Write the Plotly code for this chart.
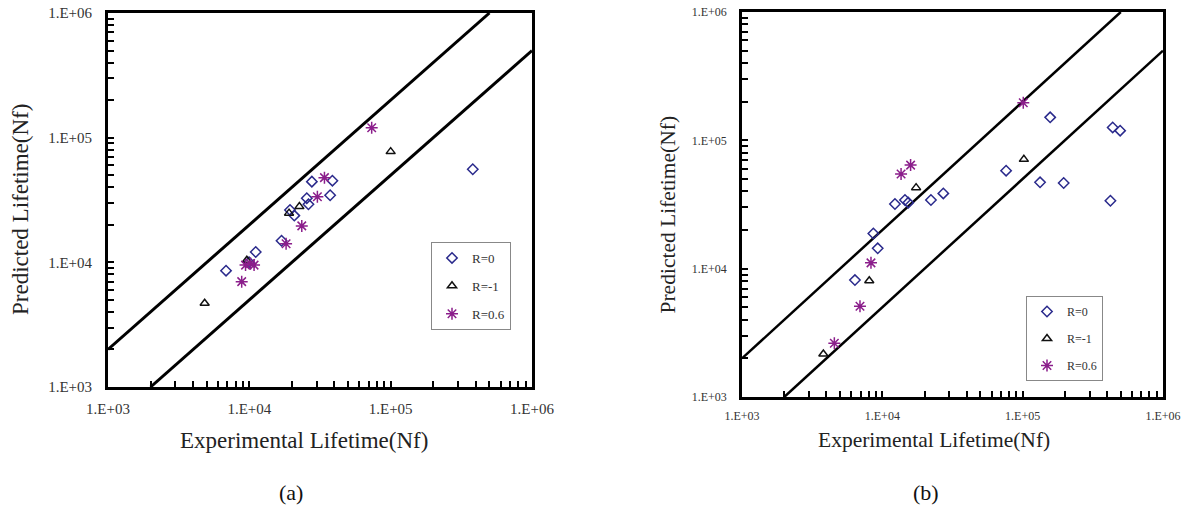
import plotly.graph_objects as go

# ---------------- data ----------------
# panel (a)
a_r0_x = [6840, 9950, 11100, 16900, 19400, 20800, 26200, 25500, 27700, 37300, 38700, 381000]
a_r0_y = [8570, 10000, 12100, 14900, 26300, 23700, 29200, 32700, 44400, 34500, 45200, 55800]
a_rm1_x = [4830, 9600, 19100, 22600, 100000]
a_rm1_y = [4700, 10400, 24800, 28000, 77300]
a_r06_x = [8830, 9400, 10200, 10800, 18200, 23500, 30300, 34000, 73400]
a_r06_y = [7000, 9500, 9800, 9500, 14100, 19600, 33600, 47800, 120000]

# panel (b)
b_r0_x = [6380, 8630, 9270, 12300, 14500, 15300, 22200, 27200, 76200, 133000, 157000, 196000, 422000, 438000, 495000]
b_r0_y = [8150, 18800, 14400, 31900, 34300, 32700, 34300, 38600, 58000, 47100, 151000, 46500, 33800, 126000, 119000]
b_rm1_x = [3800, 8070, 17400, 102000]
b_rm1_y = [2160, 8050, 42800, 71100]
b_r06_x = [4550, 6930, 8300, 13600, 15900, 101000]
b_r06_y = [2620, 5100, 11100, 54600, 64100, 196000]

series_names = ["R=0", "R=-1", "R=0.6"]
axis_min, axis_max = 1e3, 1e6
band_factor = 2
x_title = "Experimental Lifetime(Nf)"
y_title = "Predicted Lifetime(Nf)"
panel_labels = ["(a)", "(b)"]

# ---------------- styling ----------------
W, H = 1194, 506
FONT = "Liberation Serif"
C_R0 = "#2a2a8c"
C_RM1 = "#111111"
C_R06 = "#8b1e8b"

tickvals = []
ticktext = []
for e in range(3, 6):
    for m in range(1, 10):
        tickvals.append(m * 10 ** e)
        ticktext.append(f"1.E+0{e}" if m == 1 else "")
tickvals.append(10 ** 6)
ticktext.append("1.E+06")

fig = go.Figure()

panels = [
    dict(xs=(108, 532), ys=(13, 387), xa="x", ya="y", legend="legend",
         data=[(a_r0_x, a_r0_y), (a_rm1_x, a_rm1_y), (a_r06_x, a_r06_y)],
         tickfont=15, titlefont=23, lw=3, leg=(431, 242), legfont=13,
         ytitle_x=20, xtitle_x=304),
    dict(xs=(742, 1163), ys=(12, 397), xa="x2", ya="y2", legend="legend2",
         data=[(b_r0_x, b_r0_y), (b_rm1_x, b_rm1_y), (b_r06_x, b_r06_y)],
         tickfont=12, titlefont=21.5, lw=2.5, leg=(1026, 296), legfont=12,
         ytitle_x=667, xtitle_x=934),
]

symbols = [("diamond-open", C_R0, 8), ("triangle-up-open", C_RM1, 8), ("asterisk-open", C_R06, 10)]

for p in panels:
    # factor-of-2 band lines
    up_x = [axis_min, axis_max / band_factor]
    lo_x = [axis_min * band_factor, axis_max]
    fig.add_trace(go.Scatter(x=up_x, y=[v * band_factor for v in up_x], mode="lines",
                             line=dict(color="black", width=p["lw"]), showlegend=False,
                             xaxis=p["xa"], yaxis=p["ya"], hoverinfo="skip"))
    fig.add_trace(go.Scatter(x=lo_x, y=[v / band_factor for v in lo_x], mode="lines",
                             line=dict(color="black", width=p["lw"]), showlegend=False,
                             xaxis=p["xa"], yaxis=p["ya"], hoverinfo="skip"))
    for (xs, ys), name, (sym, col, sz) in zip(p["data"], series_names, symbols):
        fig.add_trace(go.Scatter(x=xs, y=ys, mode="markers", name=name,
                                 marker=dict(symbol=sym, color=col, size=sz,
                                             line=dict(color=col, width=1.5)),
                                 xaxis=p["xa"], yaxis=p["ya"], legend=p["legend"],
                                 legendgroup=p["legend"] + name))

layout = dict(width=W, height=H, margin=dict(l=0, r=0, t=0, b=0, autoexpand=False),
              plot_bgcolor="white", paper_bgcolor="white",
              font=dict(family=FONT, color="#222"))

annotations = []
for i, p in enumerate(panels):
    sfx = "" if i == 0 else "2"
    x0, x1 = p["xs"]
    y0, y1 = p["ys"]
    common = dict(type="log", range=[3, 6], tickvals=tickvals, ticktext=ticktext,
                  ticks="inside", ticklen=6, tickwidth=1.5, tickcolor="black",
                  showline=True, linewidth=p["lw"], linecolor="black", mirror=True,
                  showgrid=False, zeroline=False, automargin=False,
                  tickfont=dict(family=FONT, size=p["tickfont"], color="#333"))
    layout["xaxis" + sfx] = dict(common, domain=[x0 / W, x1 / W], anchor="y" + sfx,
                                 ticklabelstandoff=6)
    layout["yaxis" + sfx] = dict(common, domain=[1 - y1 / H, 1 - y0 / H], anchor="x" + sfx,
                                 ticklabelstandoff=10)
    lx, ly = p["leg"]
    layout[p["legend"]] = dict(x=lx / W, y=1 - ly / H, xanchor="left", yanchor="top",
                               bordercolor="#888", borderwidth=1, bgcolor="white",
                               font=dict(family=FONT, size=p["legfont"], color="#333"),
                               tracegroupgap=8, itemwidth=30)
    annotations.append(dict(text=x_title, x=p["xtitle_x"] / W, y=1 - 440 / H,
                            xref="paper", yref="paper", xanchor="center", yanchor="middle",
                            showarrow=False, font=dict(family=FONT, size=p["titlefont"], color="#222")))
    annotations.append(dict(text=y_title, x=p["ytitle_x"] / W, y=1 - ((y0 + y1) / 2 + 10) / H,
                            xref="paper", yref="paper", xanchor="center", yanchor="middle",
                            showarrow=False, textangle=-90,
                            font=dict(family=FONT, size=p["titlefont"], color="#222")))
    annotations.append(dict(text=panel_labels[i], x=(291 if i == 0 else 926) / W, y=1 - 492 / H,
                            xref="paper", yref="paper", xanchor="center", yanchor="middle",
                            showarrow=False, font=dict(family=FONT, size=22, color="#111")))

layout["annotations"] = annotations
fig.update_layout(**layout)
fig.write_html("out.html", config={"displayModeBar": False},
               post_script="document.body.style.margin='0';document.body.style.overflow='hidden';")
